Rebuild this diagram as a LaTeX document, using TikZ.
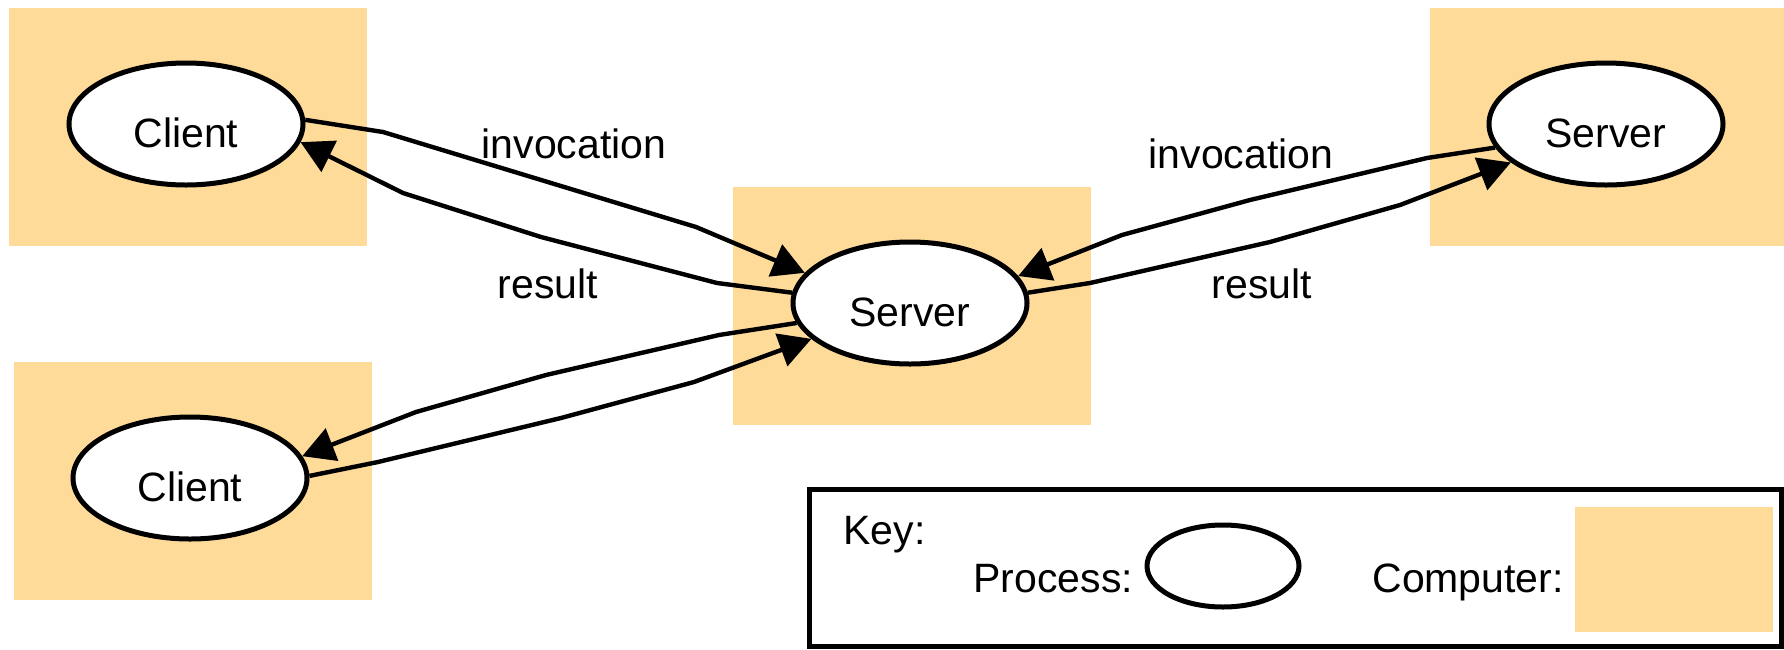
\documentclass[tikz,border=0pt]{standalone}
\usepackage{fontspec}
\setmainfont{Liberation Sans}
\usetikzlibrary{shapes.geometric,arrows.meta}
\definecolor{compfill}{RGB}{254,219,153}
\tikzset{
  comp/.style={rectangle, fill=compfill, draw=none, inner sep=0pt, minimum width=179pt, minimum height=119pt},
  proc/.style={ellipse, draw=black, fill=white, line width=2.5pt, inner sep=0pt, minimum width=117pt, minimum height=61pt, text height=23pt, text depth=0pt},
  conn/.style={line width=2.2pt, line join=round, -{Triangle[length=16pt 0 0,width=17pt 0 0]}},
  lbl/.style={anchor=base, inner sep=0pt},
  every node/.style={font=\fontsize{20.5pt}{24pt}\selectfont}
}
\begin{document}
\begin{tikzpicture}[x=0.5pt,y=-0.5pt]
\useasboundingbox (0,0) rectangle (1784,649);
% computers
\node[comp] (b1) at (188,127) {};
\node[comp] (b2) at (911.5,306) {};
\node[comp] (b3) at (1608.5,127) {};
\node[comp] (b4) at (193,481) {};
% processes
\node[proc] (c1) at (186,124) {Client};
\node[proc] (s) at (910,303) {Server};
\node[proc] (rs) at (1606,124) {Server};
\node[proc] (c2) at (190,478) {Client};
% connectors
\draw[conn] (c1.2) -- (383,132) -- (696,227) -- (s.164);
\draw[conn] (s.175) -- (717,283) -- (541,237) -- (403,193) -- (c1.-9);
\draw[conn] (s.190) -- (719,335) -- (546,375) -- (416,412) -- (c2.11);
\draw[conn] (c2.1) -- (378,462) -- (561,418) -- (694,382) -- (s.200);
\draw[conn] (rs.192) -- (1427,158) -- (1250,200) -- (1122,235) -- (s.14);
\draw[conn] (s.5) -- (1090,283) -- (1270,242) -- (1400,205) -- (rs.202);
% labels
\node[lbl] (l1) at (574,158) {invocation};
\node[lbl] (l2) at (548,298) {result};
\node[lbl] (l3) at (1241,168) {invocation};
\node[lbl] (l4) at (1262,298) {result};
% key
\draw[line width=2.5pt] (809,489) rectangle (1781,646);
\node[anchor=base west, inner sep=0pt] (key) at (843,544) {Key:};
\node[anchor=base west, inner sep=0pt] (kp) at (973,592) {Process:};
\node[ellipse, draw=black, line width=2.5pt, inner sep=0pt, minimum width=76pt, minimum height=41pt] (kproc) at (1223,566) {};
\node[anchor=base west, inner sep=0pt] (kc) at (1372,592) {Computer:};
\node[rectangle, fill=compfill, inner sep=0pt, minimum width=99pt, minimum height=62.5pt] (kcomp) at (1674,569.5) {};
\end{tikzpicture}
\end{document}
